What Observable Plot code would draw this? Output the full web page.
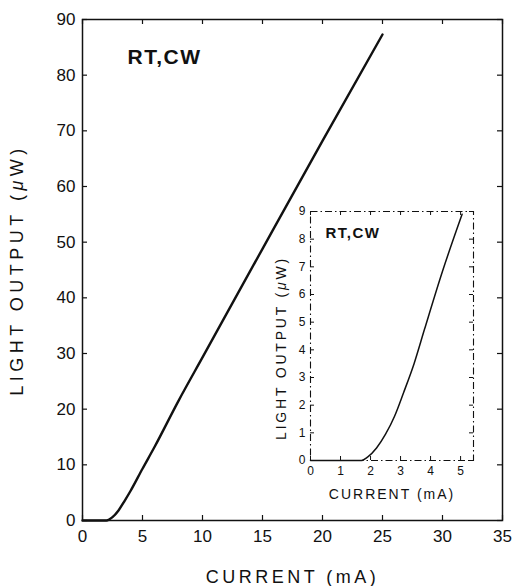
<!DOCTYPE html>
<html>
<head>
<meta charset="utf-8">
<script src="https://cdn.jsdelivr.net/npm/d3@7"></script>
<script src="https://cdn.jsdelivr.net/npm/@observablehq/plot@0.6"></script>
<style>
  html, body { margin: 0; padding: 0; background: white; }
  #chart { position: relative; width: 512px; height: 586px; background: white; }
  #chart svg { position: absolute; }
  svg.mainplot g[aria-label="x-axis label"] text { font-size: 18px; letter-spacing: 3.5px; }
  svg.mainplot g[aria-label="y-axis label"] text { font-size: 18px; letter-spacing: 4.5px; }
  svg.insetplot g[aria-label="x-axis label"] text { font-size: 14px; letter-spacing: 2px; }
  svg.insetplot g[aria-label="y-axis label"] text { font-size: 14px; letter-spacing: 2.8px; }
  svg.mainplot g[aria-label="text"] text { letter-spacing: 1.5px; }
  svg.insetplot g[aria-label="text"] text { letter-spacing: 1.5px; }
</style>
</head>
<body>
<div id="chart"></div>
<script>
// Main curve: current (mA) vs light output (µW)
const mainCurrent = [0, 1, 2, 2.5, 3, 3.5, 4, 5, 6, 8, 10, 15, 20, 25];
const mainPower   = [0, 0, 0, 0.6, 1.8, 3.5, 5.3, 9.3, 13.2, 21.5, 29.3, 48.8, 68.2, 87.3];
const mainXTicks = [0, 5, 10, 15, 20, 25, 30, 35];
const mainYTicks = [0, 10, 20, 30, 40, 50, 60, 70, 80, 90];

// Inset curve (low-current detail)
const insetCurrent = [0, 1, 1.7, 1.9, 2.2, 2.5, 2.8, 3.1, 3.45, 3.8, 4.4, 5.05];
const insetPower   = [0, 0, 0, 0.12, 0.45, 0.95, 1.6, 2.45, 3.5, 4.75, 6.85, 8.9];
const insetXTicks = [0, 1, 2, 3, 4, 5];
const insetYTicks = [0, 1, 2, 3, 4, 5, 6, 7, 8, 9];

const ink = "#111";
const font = "'Liberation Sans', Arial, Helvetica, sans-serif";

const mainData = mainCurrent.map((x, i) => ({x, y: mainPower[i]}));
const insetData = insetCurrent.map((x, i) => ({x, y: insetPower[i]}));

// ---------- main plot ----------
const M = {w: 512, h: 586, l: 82, r: 10, t: 19, b: 66};
const mpw = M.w - M.l - M.r, mph = M.h - M.t - M.b;
const tk = 5;

const main = Plot.plot({
  className: "mainplot",
  width: M.w, height: M.h,
  marginLeft: M.l, marginRight: M.r, marginTop: M.t, marginBottom: M.b,
  x: {domain: [0, 35]},
  y: {domain: [0, 90]},
  style: {fontFamily: font, fontSize: "16px", color: ink, background: "white"},
  marks: [
    Plot.frame({stroke: ink, strokeWidth: 1.5}),
    Plot.ruleX(mainXTicks, {insetTop: mph - tk, stroke: ink, strokeWidth: 1.2}),
    Plot.ruleX(mainXTicks, {insetBottom: mph - tk, stroke: ink, strokeWidth: 1.2}),
    Plot.ruleY(mainYTicks, {insetRight: mpw - tk, stroke: ink, strokeWidth: 1.2}),
    Plot.ruleY(mainYTicks, {insetLeft: mpw - tk, stroke: ink, strokeWidth: 1.2}),
    Plot.axisX({ticks: mainXTicks, tickSize: 0, tickPadding: 9, tickFormat: d => String(d),
      label: "CURRENT (mA)", labelAnchor: "center", labelArrow: "none", labelOffset: 62, fontSize: 17, fill: ink}),
    Plot.axisY({ticks: mainYTicks, tickSize: 0, tickPadding: 7, tickFormat: d => String(d),
      label: "LIGHT OUTPUT (μW)", labelAnchor: "center", labelArrow: "none", labelOffset: 72, fontSize: 17, fill: ink}),
    Plot.line(mainData, {x: "x", y: "y", stroke: ink, strokeWidth: 2.4, curve: "monotone-x"}),
    Plot.text(["RT,CW"], {frameAnchor: "top-left", dx: 45, dy: 30, fontSize: 21, fontWeight: "bold", fill: ink})
  ]
});

// ---------- inset plot ----------
const I = {left: 270, top: 200, w: 215, h: 305, l: 40, r: 12, t: 11, b: 45};
const ipw = I.w - I.l - I.r, iph = I.h - I.t - I.b;
const itk = 4;

const inset = Plot.plot({
  className: "insetplot",
  width: I.w, height: I.h,
  marginLeft: I.l, marginRight: I.r, marginTop: I.t, marginBottom: I.b,
  x: {domain: [0, 5.43]},
  y: {domain: [0, 9]},
  style: {fontFamily: font, fontSize: "12px", color: ink, background: "transparent"},
  marks: [
    Plot.frame({fill: "white", stroke: ink, strokeWidth: 1.1, strokeDasharray: "7,3,1.5,3"}),
    Plot.ruleX(insetXTicks, {insetTop: iph - itk, stroke: ink, strokeWidth: 1}),
    Plot.ruleX(insetXTicks, {insetBottom: iph - itk, stroke: ink, strokeWidth: 1}),
    Plot.ruleY(insetYTicks, {insetRight: ipw - itk, stroke: ink, strokeWidth: 1}),
    Plot.ruleY(insetYTicks, {insetLeft: ipw - itk, stroke: ink, strokeWidth: 1}),
    Plot.axisX({ticks: insetXTicks, tickSize: 0, tickPadding: 6, tickFormat: d => String(d),
      label: "CURRENT (mA)", labelAnchor: "center", labelArrow: "none", labelOffset: 38, fontSize: 12, fill: ink}),
    Plot.axisY({ticks: insetYTicks, tickSize: 0, tickPadding: 5, tickFormat: d => String(d),
      label: "LIGHT OUTPUT (μW)", labelAnchor: "center", labelArrow: "none", labelOffset: 34, fontSize: 12, fill: ink}),
    Plot.line(insetData, {x: "x", y: "y", stroke: ink, strokeWidth: 1.5, curve: "monotone-x"}),
    Plot.text(["RT,CW"], {frameAnchor: "top-left", dx: 15, dy: 16, fontSize: 15, fontWeight: "bold", fill: ink})
  ]
});

main.style.left = "0px"; main.style.top = "0px";
inset.style.left = I.left + "px"; inset.style.top = I.top + "px";
const chart = document.getElementById("chart");
chart.appendChild(main);
chart.appendChild(inset);

// remove any axis-label arrows; italic µ in the y-axis labels
const ns = "http://www.w3.org/2000/svg";
document.querySelectorAll('g[aria-label="x-axis label"] text, g[aria-label="y-axis label"] text').forEach(t => {
  let s = t.textContent.replace(/\s*[→↑←↓]\s*/g, "").trim();
  t.textContent = "";
  const i = s.indexOf("μ");
  if (i < 0) { t.textContent = s; return; }
  const a = document.createElementNS(ns, "tspan"); a.textContent = s.slice(0, i);
  const m = document.createElementNS(ns, "tspan"); m.textContent = "μ"; m.setAttribute("font-style", "italic");
  const b = document.createElementNS(ns, "tspan"); b.textContent = s.slice(i + 1);
  t.append(a, m, b);
});
// inset y label sits a little lower in the reference
const iy = inset.querySelector('g[aria-label="y-axis label"] text');
if (iy) iy.setAttribute("dx", "-12");
</script>
</body>
</html>
